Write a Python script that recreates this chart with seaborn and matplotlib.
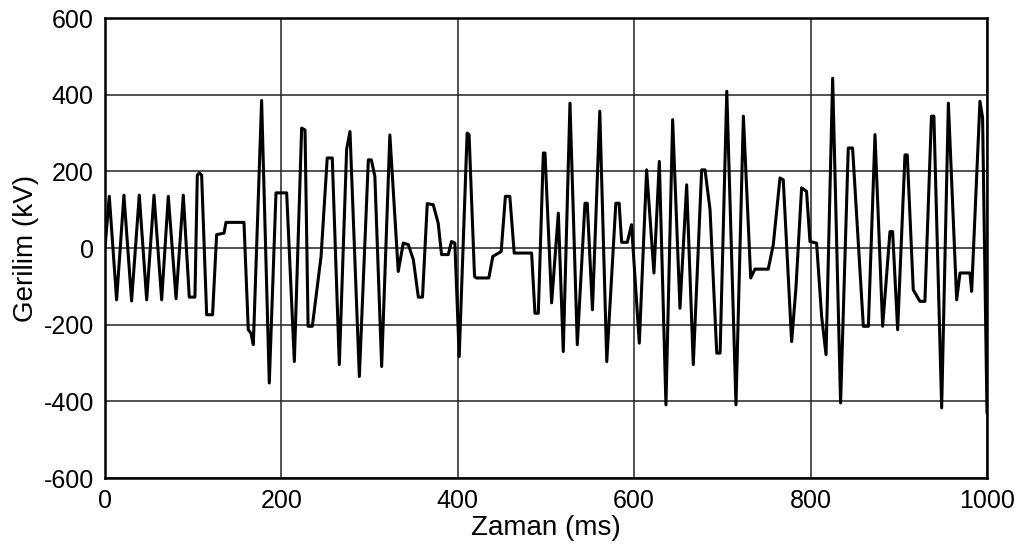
import matplotlib
matplotlib.use("Agg")
import matplotlib.pyplot as plt
from matplotlib.ticker import MultipleLocator
import seaborn as sns
import pandas as pd

# Recorded voltage waveform: time (ms) and voltage (kV)
zaman_ms = [
    0, 4.9, 13.2, 21.5, 30.2, 38.9, 47.3, 55.6, 64.3, 71.8, 80.6, 88.8,
    95.6, 102, 104.7, 107, 109.6, 115.3, 122, 126.6, 135, 137.2, 157.6,
    162.5, 165.5, 168.2, 177.6, 186.3, 193.9, 206, 214.7, 223, 226.8,
    230.3, 235.1, 245, 252, 257.7, 265.7, 274, 277.8, 288.4, 298.6, 302,
    306, 313.7, 323, 332.5, 338.2, 343.9, 349.6, 355.3, 360, 365.4, 372.2,
    377.8, 381.6, 389.2, 392.9, 396.7, 401.6, 410.6, 412.8, 419, 420.9,
    435.2, 439.7, 449.2, 454, 459, 464, 483.7, 487.5, 491.3, 497, 498.9,
    506.4, 514, 519.6, 527.2, 535.5, 544.2, 546.8, 552.7, 561, 568.9,
    579.2, 582.9, 585.8, 592.2, 597, 605.8, 614.1, 622.4, 628.5, 636,
    643.6, 651.9, 659.5, 667, 676.5, 680.3, 686, 693.6, 697.4, 705, 715.4,
    723.8, 732.1, 736.9, 752, 757.7, 765.3, 769, 778.5, 783.4, 789.8,
    795.4, 799.3, 806.8, 812.5, 817.5, 825, 834, 842.7, 847.6, 859.8,
    865.5, 873, 881.7, 890, 893, 898.7, 907, 909.6, 916.4, 924, 929.6,
    937, 939.8, 948.6, 956.2, 965.6, 969.4, 980.7, 982.6, 992, 995, 1000,
]
gerilim_kv = [
    0, 135, -135, 138, -138, 138, -135, 138, -135, 135, -132, 138,
    -128, -128, 190, 196, 190, -174, -174, 35, 39, 67, 67,
    -213, -222, -252, 385, -352, 144, 144, -296, 313, 308,
    -204, -204, -22, 235, 235, -304, 258, 304, -335, 230, 230,
    187, -309, 295, -61, 13, 9, -30, -128, -128, 116, 113,
    65, -17, -17, 17, 13, -283, 300, 296, -74, -78,
    -78, -22, -9, 135, 135, -13, -13, -170, -170, 248, 248,
    -143, 91, -270, 378, -252, 117, 117, -161, 357, -296,
    117, 117, 15, 15, 61, -248, 204, -65, 226, -409,
    335, -157, 165, -304, 204, 204, 100, -274, -274, 409, -409,
    344, -78, -55, -55, 9, 183, 178, -244, -104, 157,
    148, 17, 13, -178, -278, 443, -404, 261, 261, -204,
    -204, 296, -204, 43, 43, -213, 243, 243, -109, -139, -139,
    344, 344, -417, 378, -135, -65, -65, -113, 383, 340, -430,
]

x_ticks = [0, 200, 400, 600, 800, 1000]
y_ticks = [-600, -400, -200, 0, 200, 400, 600]

sns.set_theme(style="white")
plt.rcParams["font.family"] = ["Liberation Sans", "DejaVu Sans"]
plt.rcParams["axes.unicode_minus"] = False

df = pd.DataFrame({"Zaman (ms)": zaman_ms, "Gerilim (kV)": gerilim_kv})

fig = plt.figure(figsize=(10.21, 5.47), dpi=100)
ax = fig.add_axes([0.1028, 0.126, 0.8639, 0.841])

sns.lineplot(data=df, x="Zaman (ms)", y="Gerilim (kV)", sort=False,
             color="black", linewidth=2.2, ax=ax, zorder=3,
             solid_joinstyle="round")

ax.set_xlim(0, 1000)
ax.set_ylim(-600, 600)
ax.set_xticks(x_ticks)
ax.set_yticks(y_ticks)
ax.xaxis.set_minor_locator(MultipleLocator(100))
ax.yaxis.set_minor_locator(MultipleLocator(100))

ax.grid(True, which="major", color="#222222", linewidth=1.1, zorder=1)
ax.tick_params(axis="both", which="major", direction="out", length=7,
               width=1.0, color="black", labelsize=18, pad=1,
               labelcolor="black")
ax.tick_params(axis="both", which="minor", direction="inout", length=7,
               width=1.0, color="black")

for side in ["left", "right", "top", "bottom"]:
    ax.spines[side].set_visible(True)
    ax.spines[side].set_color("black")
    ax.spines[side].set_linewidth(1.8)

ax.set_xlabel("Zaman (ms)", fontsize=20, labelpad=1, color="black")
ax.set_ylabel("Gerilim (kV)", fontsize=20, labelpad=3, color="black")

fig.savefig("out.png", dpi=100, facecolor="white")
